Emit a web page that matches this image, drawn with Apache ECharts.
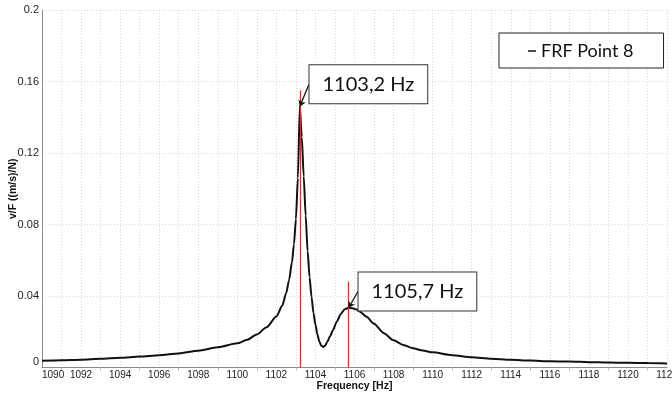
<!DOCTYPE html>
<html>
<head>
<meta charset="utf-8">
<script src="https://cdn.jsdelivr.net/npm/echarts@6/dist/echarts.min.js"></script>
<style>
  html, body { margin: 0; padding: 0; background: #fff; }
  #chart { width: 672px; height: 396px; }
</style>
</head>
<body>
<div id="chart"></div>
<script>
// Frequency response of measurement point 8 (velocity / force)
const freqHz = [
  1090, 1091, 1092, 1093, 1094, 1095, 1096, 1097, 1098, 1099, 1100,
  1100.5, 1101, 1101.5, 1102, 1102.3, 1102.5, 1102.65, 1102.8, 1102.9,
  1103.0, 1103.1, 1103.2, 1103.3, 1103.4, 1103.5, 1103.6, 1103.7, 1103.8,
  1103.9, 1104.0, 1104.1, 1104.2, 1104.3, 1104.4, 1104.5, 1104.6, 1104.75,
  1104.9, 1105.1, 1105.3, 1105.5, 1105.7, 1105.9, 1106.1, 1106.3, 1106.6,
  1107, 1107.5, 1108, 1108.5, 1109, 1109.5, 1110, 1111, 1112, 1113, 1114,
  1115, 1116, 1117, 1118, 1119, 1120, 1121, 1122
];
const vfValues = [
  0.0038, 0.0041, 0.0044, 0.0049, 0.0055, 0.0061, 0.0069, 0.0079, 0.0094, 0.0113, 0.0135,
  0.0155, 0.0185, 0.0225, 0.0285, 0.0345, 0.0415, 0.0490, 0.0590, 0.0690,
  0.0830, 0.1060, 0.1460, 0.1290, 0.1070, 0.0850, 0.0650, 0.0505, 0.0395,
  0.0305, 0.0240, 0.0185, 0.0145, 0.0122, 0.0115, 0.0123, 0.0142, 0.0175,
  0.0210, 0.0258, 0.0300, 0.0326, 0.0334, 0.0332, 0.0324, 0.0310, 0.0285,
  0.0245, 0.0192, 0.0152, 0.0126, 0.0107, 0.0095, 0.0085, 0.0069, 0.0057, 0.0049, 0.0043,
  0.0039, 0.0035, 0.0033, 0.0030, 0.0028, 0.0026, 0.0025, 0.0023
];

// Identified resonance peaks and their annotations
const peakFreqs = [1103.2, 1105.7];
const peakLabels = ['1103,2 Hz', '1105,7 Hz'];
const peakMarkerTops = [0.155, 0.048];      // height of red frequency markers
const labelAnchors = [[1103.67, 0.1585], [1106.18, 0.0425]];

const seriesName = 'FRF Point 8';
const xTicks = { min: 1090, max: 1122, step: 2 };
const yTicks = { min: 0, max: 0.2, step: 0.04 };

const lineData = freqHz.map((f, i) => [f, vfValues[i]]);
const valueAt = f => vfValues[freqHz.indexOf(f)];

const redLines = peakFreqs.map((f, i) => [
  { coord: [f, 0], lineStyle: { color: '#ff2020', width: 1.3, type: 'solid' } },
  { coord: [f, peakMarkerTops[i]] }
]);
const leaders = peakFreqs.map((f, i) => [
  { coord: [f, valueAt(f)], lineStyle: { color: '#111', width: 1.3, type: 'solid' } },
  { coord: labelAnchors[i] }
]);

const chart = echarts.init(document.getElementById('chart'), null, { renderer: 'canvas' });
const axisFont = 'Liberation Sans, Arial, sans-serif';

chart.setOption({
  animation: false,
  backgroundColor: '#fff',
  grid: { left: 42, right: 5, top: 10, bottom: 28.5, containLabel: false, outerBoundsMode: 'none' },
  legend: {
    data: [seriesName],
    left: 499,
    top: 33,
    padding: [8, 30, 7, 29],
    borderColor: '#222',
    borderWidth: 1,
    backgroundColor: '#fff',
    icon: 'rect',
    itemWidth: 8,
    itemHeight: 1.5,
    textStyle: { fontFamily: 'Lato, sans-serif', fontSize: 18, color: '#111', lineHeight: 20 }
  },
  xAxis: {
    type: 'value',
    min: xTicks.min,
    max: xTicks.max,
    interval: xTicks.step,
    name: 'Frequency [Hz]',
    nameLocation: 'middle',
    nameGap: 13,
    nameMoveOverlap: false,
    nameTextStyle: { fontFamily: axisFont, fontWeight: 'bold', fontSize: 10.5, color: '#111' },
    axisLine: { show: true, onZero: false, lineStyle: { color: '#8a8a8a', width: 1 } },
    axisTick: { show: false },
    minorTick: { show: true, splitNumber: 2, length: 3, lineStyle: { color: '#bbb' } },
    axisLabel: {
      fontFamily: axisFont, fontSize: 10, color: '#222', margin: 3,
      alignMinLabel: 'left', showMinLabel: true, showMaxLabel: true,
      hideOverlap: false,
      formatter: v => String(v)
    },
    splitLine: { show: true, lineStyle: { color: '#d6d6d6', type: [1, 2], width: 1 } },
    minorSplitLine: { show: true, lineStyle: { color: '#d6d6d6', type: [1, 2], width: 1 } }
  },
  yAxis: {
    type: 'value',
    min: yTicks.min,
    max: yTicks.max,
    interval: yTicks.step,
    name: 'v/F ((m/s)/N)',
    nameLocation: 'middle',
    nameGap: 23,
    nameMoveOverlap: false,
    nameTextStyle: { fontFamily: axisFont, fontWeight: 'bold', fontSize: 10.5, color: '#111' },
    axisLine: { show: true, lineStyle: { color: '#8a8a8a', width: 1 } },
    axisTick: { show: false },
    axisLabel: {
      fontFamily: axisFont, fontSize: 11, color: '#222', margin: 3,
      verticalAlignMinLabel: 'bottom',
      formatter: v => String(Math.round(v * 100) / 100)
    },
    splitLine: { show: true, lineStyle: { color: '#d6d6d6', type: [1, 2], width: 1 } }
  },
  series: [{
    name: seriesName,
    type: 'line',
    data: lineData,
    showSymbol: false,
    smooth: 0.25,
    smoothMonotone: 'x',
    lineStyle: { color: '#111', width: 2 },
    itemStyle: { color: '#111' },
    markLine: {
      silent: true,
      symbol: ['none', 'none'],
      label: { show: false },
      data: redLines
    },
    z: 3
  }, {
    // leader lines and callout boxes for the peaks
    name: 'peaks',
    type: 'line',
    data: [],
    markLine: {
      silent: true,
      symbol: ['arrow', 'none'],
      symbolSize: 6,
      label: { show: false },
      data: leaders
    },
    markPoint: {
      silent: true,
      symbol: 'rect',
      symbolSize: 1,
      itemStyle: { color: 'rgba(0,0,0,0)' },
      label: {
        show: true,
        position: 'right',
        distance: 0,
        formatter: p => p.name,
        fontFamily: 'Lato, sans-serif',
        fontSize: 20,
        lineHeight: 20,
        color: '#111',
        backgroundColor: '#fff',
        borderColor: '#333',
        borderWidth: 1,
        padding: [9, 13]
      },
      data: labelAnchors.map((c, i) => ({ name: peakLabels[i], coord: c }))
    },
    z: 5
  }]
});
</script>
</body>
</html>
